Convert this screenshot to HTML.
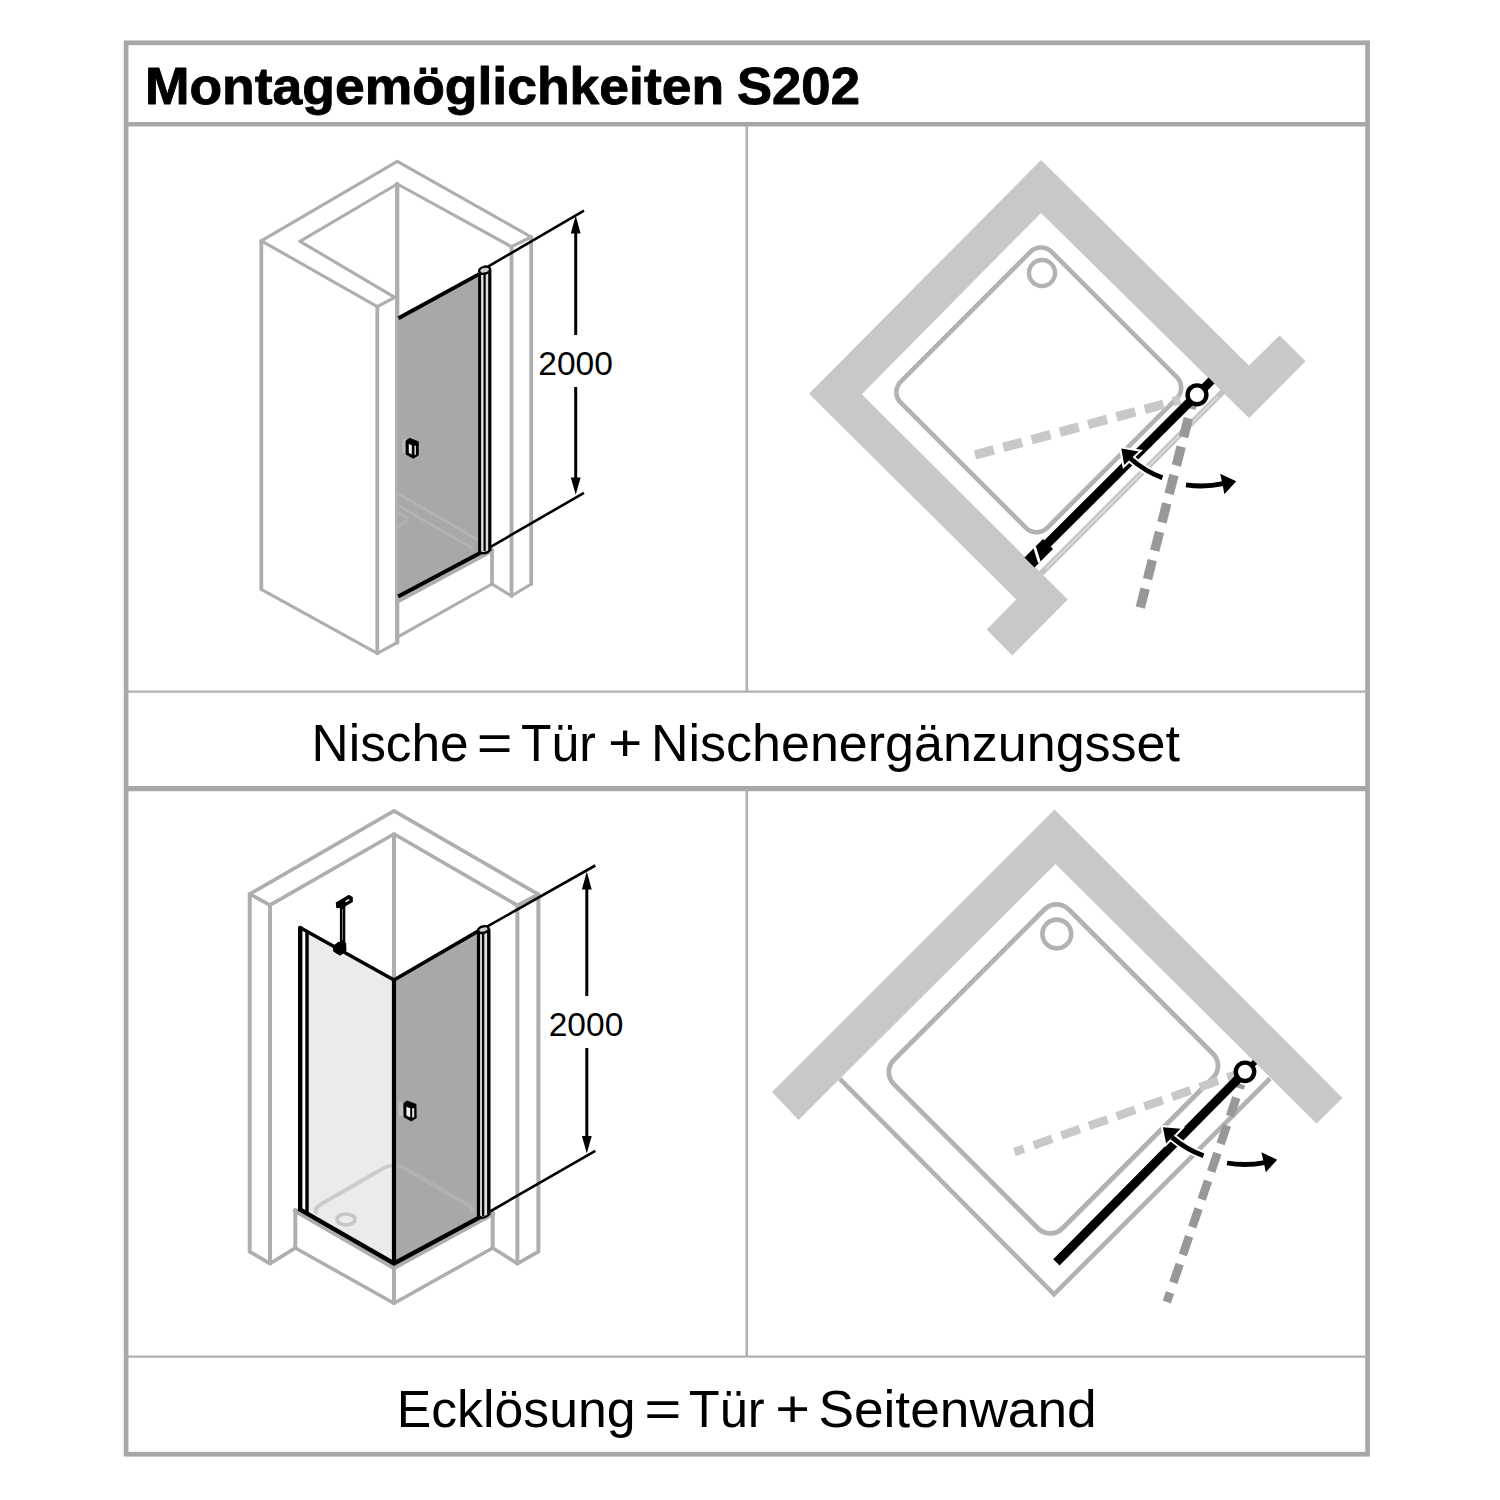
<!DOCTYPE html>
<html lang="de">
<head>
<meta charset="utf-8">
<title>Montagemöglichkeiten S202</title>
<style>
html,body{margin:0;padding:0;background:#fff;}
body{width:1500px;height:1500px;overflow:hidden;font-family:"Liberation Sans",sans-serif;}
svg{display:block;}
text{font-family:"Liberation Sans",sans-serif;fill:#000;}
.wl{fill:none;stroke:#aeaeae;stroke-width:3.1;stroke-linejoin:round;stroke-linecap:round;}
.wl .v{stroke-width:3.8;}
.wl.bl{stroke-width:3.7;}
.wl.bl .v{stroke-width:4;}
.bk{fill:none;stroke:#000;stroke-linecap:butt;}
</style>
</head>
<body>
<svg width="1500" height="1500" viewBox="0 0 1500 1500">
<rect x="0" y="0" width="1500" height="1500" fill="#fff"/>

<!-- ===== FRAME ===== -->
<g id="frame" fill="none" stroke="#a7a7a7">
  <rect x="126.1" y="42.8" width="1241.5" height="1411.4" stroke-width="4.7"/>
  <line x1="126" y1="124.3" x2="1367.5" y2="124.3" stroke-width="4.6"/>
  <line x1="126" y1="788.7" x2="1367.5" y2="788.7" stroke-width="5.2"/>
  <g stroke="#b0b0b0" stroke-width="2.2">
    <line x1="126" y1="691.7" x2="1367.5" y2="691.7"/>
    <line x1="126" y1="1356.7" x2="1367.5" y2="1356.7"/>
    <line x1="746.8" y1="126" x2="746.8" y2="691.7" stroke-width="2.6"/>
    <line x1="746.8" y1="790" x2="746.8" y2="1356.7" stroke-width="2.6"/>
  </g>
</g>

<!-- ===== TEXT ===== -->
<g id="texts">
  <g font-size="51.5" font-weight="bold" stroke="#000" stroke-width="0.9" stroke-linejoin="round">
    <text x="144.9" y="104.2" textLength="579.2" lengthAdjust="spacingAndGlyphs">Montagemöglichkeiten</text>
    <text x="737" y="104.2" textLength="122.9" lengthAdjust="spacingAndGlyphs">S202</text>
  </g>
  <g font-size="52">
    <text x="311.6" y="760.7" textLength="157.1" lengthAdjust="spacingAndGlyphs">Nische</text>
    <text x="476.7" y="760.7" textLength="35.7" lengthAdjust="spacingAndGlyphs">=</text>
    <text x="520.9" y="760.7" textLength="74.9" lengthAdjust="spacingAndGlyphs">Tür</text>
    <text x="608.1" y="760.7" textLength="34.3" lengthAdjust="spacingAndGlyphs">+</text>
    <text x="651" y="760.7" textLength="529" lengthAdjust="spacingAndGlyphs">Nischenergänzungsset</text>
    <text x="396.7" y="1427.2" textLength="238.8" lengthAdjust="spacingAndGlyphs">Ecklösung</text>
    <text x="644.2" y="1427.2" textLength="37.2" lengthAdjust="spacingAndGlyphs">=</text>
    <text x="688.8" y="1427.2" textLength="75.9" lengthAdjust="spacingAndGlyphs">Tür</text>
    <text x="775.2" y="1427.2" textLength="34.7" lengthAdjust="spacingAndGlyphs">+</text>
    <text x="818.4" y="1427.2" textLength="278.3" lengthAdjust="spacingAndGlyphs">Seitenwand</text>
  </g>
</g>

<!-- ===== TOP-LEFT : NISCHE ISO ===== -->
<g id="tl">
  <!-- niche walls (gray outline) -->
  <g class="wl">
    <!-- top face outer / inner -->
    <polyline points="261.3,240.8 397.3,161.3 531.2,237"/>
    <polyline points="300,241.3 397.3,184 511.5,246.7"/>
    <!-- left wall top face front edges -->
    <polyline points="261.3,240.8 377.3,306.7 394.7,297.3"/>
    <polyline points="300,241.3 394.7,297.3"/>
    <!-- right wall top cap -->
    <polyline points="511.5,246.7 531.2,237"/>
    <!-- left block verticals -->
    <line class="v" x1="261.3" y1="240.8" x2="261.3" y2="589.3"/>
    <line class="v" x1="377.3" y1="306.7" x2="377.3" y2="653.3"/>
    <line x1="397.2" y1="184" x2="397.2" y2="642.7" stroke-width="4.3"/>
    <polyline points="261.3,589.3 377.3,653.3 397,642.7"/>
    <!-- right wall verticals -->
    <line class="v" x1="511.5" y1="246.7" x2="511.5" y2="596"/>
    <line class="v" x1="531.2" y1="237" x2="531.2" y2="584"/>
    <line class="v" x1="492" y1="552" x2="492" y2="584"/>
    <polyline points="492,584 511.5,596 531.2,584"/>
    <!-- tray front -->
    <line x1="397" y1="601.6" x2="492" y2="550.4" stroke-width="4.6"/>
    <line x1="397" y1="637.3" x2="492" y2="584"/>
  </g>
  <!-- door glass -->
  <polygon points="398.7,318 479,274.2 480,552 398.7,596" fill="#a8a8a8"/>
  <!-- tray seen through glass -->
  <g fill="none" stroke="#b3b3b3" stroke-width="2.8" stroke-linecap="round">
    <polyline points="399,494 478,540"/>
    <polyline points="399,506 472,548"/>
    <path d="M399,513 L406,517 L406,522 L399,526"/>
  </g>
  <!-- glass edges -->
  <line class="bk" x1="398.4" y1="318.3" x2="480" y2="273.6" stroke-width="3.9"/>
  <line class="bk" x1="398.2" y1="596.6" x2="481" y2="552.4" stroke-width="4"/>
  <!-- hinge profile -->
  <rect x="478.4" y="268" width="12.6" height="284" fill="#dcdcdc"/>
  <line class="bk" x1="479.6" y1="273" x2="479.6" y2="552.5" stroke-width="3"/>
  <line class="bk" x1="484.6" y1="274" x2="484.6" y2="551" stroke-width="2.2"/>
  <line class="bk" x1="489.8" y1="270" x2="489.8" y2="550" stroke-width="3.2"/>
  <ellipse cx="484.6" cy="270.2" rx="5.6" ry="3.4" transform="rotate(-14 484.6 270.2)" fill="#cfcfcf" stroke="#000" stroke-width="2.5"/>
  <path d="M479,551.5 Q484.5,556 491,549.5" class="bk" stroke-width="2.4"/>
  <!-- handle -->
  <g>
    <rect x="402.4" y="439" width="5" height="14" fill="#bcbcbc"/>
    <polygon points="406,440.7 409.7,438.3 418.3,441.7 418.3,455.3 413.3,458.3 406,454.3" fill="#000" stroke="#000" stroke-width="0.8" stroke-linejoin="round"/>
    <polygon points="408.8,444 411.8,445.2 411.8,454.4 408.8,452.8" fill="#f2f2f2"/>
    <polygon points="414.4,446 416,445.4 416,454.4 414.4,455.2" fill="#d0d0d0"/>
  </g>
  <!-- dimension -->
  <line class="bk" x1="488" y1="266.6" x2="584" y2="210.7" stroke-width="2.6"/>
  <line class="bk" x1="490.7" y1="546.9" x2="584" y2="492.8" stroke-width="2.6"/>
  <line class="bk" x1="575.7" y1="230" x2="575.7" y2="335" stroke-width="3"/>
  <line class="bk" x1="575.7" y1="387" x2="575.7" y2="482" stroke-width="3"/>
  <polygon points="575.7,215.6 580.6,233.5 570.8,233.5" fill="#000"/>
  <polygon points="575.7,494.8 580.6,477.5 570.8,477.5" fill="#000"/>
  <text x="575.6" y="374.6" font-size="33.5" text-anchor="middle">2000</text>
</g>

<!-- ===== TOP-RIGHT : NISCHE PLAN ===== -->
<g id="tr">
  <!-- walls -->
  <polygon fill="#c8c8c8" points="1041,160 809,393.8 1016.3,599.5 986.6,629.6 1012.3,655.6 1067.8,599.5 861.8,394.2 1041,213 1249,418 1305.6,361.2 1279.6,335.4 1249,365.5"/>
  <!-- shower tray -->
  <rect x="-103.5" y="-106.65" width="207" height="213.3" rx="15" ry="15" transform="translate(1038.8,389.9) rotate(45)" fill="none" stroke="#b2b2b2" stroke-width="4.6"/>
  <circle cx="1042" cy="273" r="13" fill="none" stroke="#b2b2b2" stroke-width="4.4"/>
  <!-- thin outer line -->
  <line x1="1223" y1="391.5" x2="1041" y2="573.5" stroke="#c2c2c2" stroke-width="5.8"/>
  <line x1="1218" y1="396.5" x2="1046" y2="568.5" stroke="#d8d8d8" stroke-width="2.4"/>
  <!-- swing positions -->
  <line x1="975" y1="455" x2="1180" y2="399.8" stroke="#c8c8c8" stroke-width="9.5" stroke-dasharray="19.5 9.8"/>
  <line x1="1140.3" y1="607.5" x2="1192" y2="404" stroke="#989898" stroke-width="9.5" stroke-dasharray="19.5 9.8"/>
  <!-- door -->
  <line x1="1211.5" y1="380.5" x2="1197" y2="395" stroke="#000" stroke-width="8.5"/>
  <line x1="1197" y1="394.6" x2="1032.5" y2="558.4" stroke="#000" stroke-width="9"/>
  <polygon fill="#000" points="1024.5,557.5 1043,539 1053,549 1034.5,567.5"/>
  <line x1="1034.6" y1="547" x2="1039.4" y2="562.5" stroke="#fff" stroke-width="2.8"/>
  <circle cx="1197" cy="394.8" r="9.4" fill="#fff" stroke="#000" stroke-width="4.4"/>
  <!-- swing arrow -->
  <g fill="none" stroke="#fff" stroke-width="8.5" stroke-linejoin="miter">
    <path d="M1130.5,458.5 A100,100 0 0 0 1162.4,477.8"/>
    <polygon points="1121.3,448.6 1138.6,451.4 1131.4,458 1124.2,465" fill="#fff" stroke-width="4"/>
  </g>
  <path d="M1130.5,458.5 A100,100 0 0 0 1162.4,477.8" fill="none" stroke="#000" stroke-width="4.8"/>
  <path d="M1186,484.8 A100,100 0 0 0 1223,483.6" fill="none" stroke="#000" stroke-width="4.8"/>
  <polygon points="1121.3,448.6 1138.6,451.4 1131.6,458 1124.2,465" fill="#000"/>
  <polygon points="1236.2,481.3 1220.2,473.8 1222.4,483.8 1224.4,494.2" fill="#000"/>
</g>

<!-- ===== BOTTOM-LEFT : ECKE ISO ===== -->
<g id="bl">
  <!-- room corner walls (gray outline) -->
  <g class="wl bl">
    <polyline points="249.7,894 394,810.8 538.4,894.4"/>
    <polyline points="270,905.2 394,834 517.4,905.4"/>
    <line x1="249.7" y1="894" x2="270" y2="905.2"/>
    <line x1="538.4" y1="894.4" x2="517.4" y2="905.4"/>
    <line class="v" x1="394" y1="834" x2="394" y2="978"/>
    <!-- left wall -->
    <line class="v" x1="249.7" y1="894" x2="249.7" y2="1251.6"/>
    <line class="v" x1="270" y1="905.2" x2="270" y2="1263.6"/>
    <polyline points="249.7,1251.6 270,1263.6 295.3,1248"/>
    <!-- right wall -->
    <line class="v" x1="538.4" y1="894.4" x2="538.4" y2="1251.6"/>
    <line class="v" x1="517.4" y1="905.2" x2="517.4" y2="1263.6"/>
    <polyline points="538.4,1251.6 517.4,1263.6 492.7,1248"/>
    <!-- tray body -->
    <polyline points="295.3,1248 394,1303.3 492.7,1248" stroke-width="3.5"/>
    <line class="v" x1="295.3" y1="1211" x2="295.3" y2="1248"/>
    <line class="v" x1="492.7" y1="1214" x2="492.7" y2="1248"/>
    <line class="v" x1="394" y1="1267" x2="394" y2="1303.3"/>
    <polyline points="295.3,1210.5 394,1267.5 492.7,1213.5" stroke-width="5"/>
  </g>
  <!-- side panel glass (light) -->
  <polygon points="307,931 394,980 394,1263 307,1213" fill="#ebebeb"/>
  <!-- door glass (dark) -->
  <polygon points="394,980 478.6,930.8 480,1217 394,1263" fill="#a8a8a8"/>
  <!-- tray seen through glass -->
  <g fill="none" stroke-width="3.8" stroke-linecap="round">
    <path d="M316,1212.5 Q314,1208 323,1203 L383,1168.5 Q390.5,1164.8 394,1165.8" stroke="#cbcbcb"/>
    <path d="M394,1165.8 Q398,1164.8 405,1168.5 L470,1206 Q473,1208.5 472,1211" stroke="#b2b2b2"/>
    <ellipse cx="346" cy="1219.4" rx="9" ry="5.4" stroke="#c6c6c6" stroke-width="3.6"/>
  </g>
  <!-- side panel frame -->
  <line class="bk" x1="300.2" y1="926.5" x2="300.2" y2="1210" stroke-width="4.4"/>
  <line class="bk" x1="307" y1="931" x2="307" y2="1213.5" stroke-width="3.4"/>
  <polyline class="bk" points="299,927 394,980 479,930.6" stroke-width="3.6" stroke-linejoin="miter"/>
  <polyline class="bk" points="298.5,1208.6 394,1263.4 481,1216.6" stroke-width="4.4" stroke-linejoin="miter"/>
  <line class="bk" x1="394" y1="979" x2="394" y2="1264" stroke-width="4.2"/>
  <!-- hinge profile -->
  <rect x="477.2" y="929" width="13" height="286" fill="#dcdcdc"/>
  <line class="bk" x1="478.5" y1="931" x2="478.5" y2="1217" stroke-width="3.2"/>
  <line class="bk" x1="483.1" y1="933" x2="483.1" y2="1216" stroke-width="2.3"/>
  <line class="bk" x1="488.8" y1="929" x2="488.8" y2="1214" stroke-width="3.4"/>
  <ellipse cx="483.4" cy="929.6" rx="5.4" ry="3.2" transform="rotate(-14 483.4 929.6)" fill="#cfcfcf" stroke="#000" stroke-width="2.5"/>
  <path d="M477.6,1216 Q483,1220.5 490,1213.5" class="bk" stroke-width="2.4"/>
  <!-- stabiliser bar -->
  <g>
    <line x1="342.6" y1="903" x2="342.6" y2="948" stroke="#000" stroke-width="5.4"/>
    <line x1="342.6" y1="909" x2="342.6" y2="940" stroke="#fff" stroke-width="0.8" opacity="0.7"/>
    <polygon points="336.6,903 348.8,895.8 352,897.4 352,901.6 343,906.8 337,907.4" fill="#000" stroke="#000" stroke-width="1.6" stroke-linejoin="round"/>
    <line x1="345.6" y1="901.6" x2="349.2" y2="899.6" stroke="#fff" stroke-width="1.6"/>
    <path d="M333.6,946.5 L339,942.5 L345.4,943.5 L345.6,950.5 L340,954.8 L334,951 Z" fill="#000" stroke="#000" stroke-width="1.6" stroke-linejoin="round"/>
  </g>
  <!-- handle -->
  <g>
    <rect x="398.6" y="1102" width="5" height="14" fill="#bcbcbc"/>
    <polygon points="403.8,1103.3 407.3,1101 416,1104.3 416.2,1118 411.3,1121 404,1117" fill="#000" stroke="#000" stroke-width="0.8" stroke-linejoin="round"/>
    <polygon points="406.4,1106.8 410.2,1108.2 410.2,1117.6 406.4,1115.6" fill="#f2f2f2"/>
    <polygon points="412.2,1108.6 414.2,1108 414.2,1117 412.2,1118" fill="#ececec"/>
  </g>
  <!-- dimension -->
  <line class="bk" x1="487" y1="926.6" x2="595.3" y2="865.5" stroke-width="2.6"/>
  <line class="bk" x1="490" y1="1211.5" x2="595.3" y2="1150.8" stroke-width="2.6"/>
  <line class="bk" x1="586.8" y1="886" x2="586.8" y2="996" stroke-width="3"/>
  <line class="bk" x1="586.8" y1="1048" x2="586.8" y2="1140" stroke-width="3"/>
  <polygon points="586.8,871.6 591.7,889.5 581.9,889.5" fill="#000"/>
  <polygon points="586.8,1153.4 591.7,1136 581.9,1136" fill="#000"/>
  <text x="586" y="1036.4" font-size="33.5" text-anchor="middle">2000</text>
</g>

<!-- ===== BOTTOM-RIGHT : ECKE PLAN ===== -->
<g id="br">
  <!-- walls (V shape) -->
  <polygon fill="#c8c8c8" points="1054.5,809.5 772,1092 798.5,1120 1055.5,864 1316.5,1123.5 1342.5,1098"/>
  <!-- tray outer outline -->
  <polyline points="839.8,1078.8 1054,1294.3 1270,1078.5" fill="none" stroke="#b2b2b2" stroke-width="4.6" stroke-linejoin="miter"/>
  <!-- tray inner -->
  <rect x="-119.1" y="-123.6" width="238.2" height="247.2" rx="17" ry="17" transform="translate(1053.4,1068.9) rotate(45)" fill="none" stroke="#b2b2b2" stroke-width="4.8"/>
  <circle cx="1056.8" cy="934" r="14.4" fill="none" stroke="#b2b2b2" stroke-width="4.6"/>
  <!-- swing positions -->
  <line x1="1014.4" y1="1152" x2="1236" y2="1074.5" stroke="#c8c8c8" stroke-width="8.6" stroke-dasharray="10 10.5 19.5 9.8 19.5 9.8 19.5 9.8 19.5 9.8 19.5 9.8 19.5 9.8 19.5 9.8 19.5 9.8"/>
  <line x1="1166.8" y1="1302" x2="1241" y2="1084" stroke="#989898" stroke-width="8.6" stroke-dasharray="10 10.5 19.5 9.8 19.5 9.8 19.5 9.8 19.5 9.8 19.5 9.8 19.5 9.8 19.5 9.8 19.5 9.8"/>
  <!-- door -->
  <line x1="1255" y1="1062" x2="1245" y2="1072" stroke="#000" stroke-width="6"/>
  <line x1="1245" y1="1071.8" x2="1056.4" y2="1262.4" stroke="#000" stroke-width="9"/>
  <circle cx="1245" cy="1071.8" r="9.2" fill="#fff" stroke="#000" stroke-width="4.4"/>
  <!-- swing arrow -->
  <g fill="none" stroke="#fff" stroke-width="8.5">
    <path d="M1172,1137.3 A105,105 0 0 0 1203.5,1155.7"/>
    <polygon points="1162.9,1127.2 1180.5,1128.8 1172.6,1136.8 1166.1,1143.2" fill="#fff" stroke-width="4"/>
  </g>
  <path d="M1172,1137.3 A105,105 0 0 0 1203.5,1155.7" fill="none" stroke="#000" stroke-width="4.8"/>
  <path d="M1227,1163 A105,105 0 0 0 1264.6,1162.6" fill="none" stroke="#000" stroke-width="4.8"/>
  <polygon points="1162.9,1127.2 1180.5,1128.8 1172.8,1136.8 1166.1,1143.2" fill="#000"/>
  <polygon points="1277.2,1159.7 1261.4,1152.2 1263.8,1162.4 1265.8,1172.2" fill="#000"/>
</g>

</svg>
</body>
</html>
